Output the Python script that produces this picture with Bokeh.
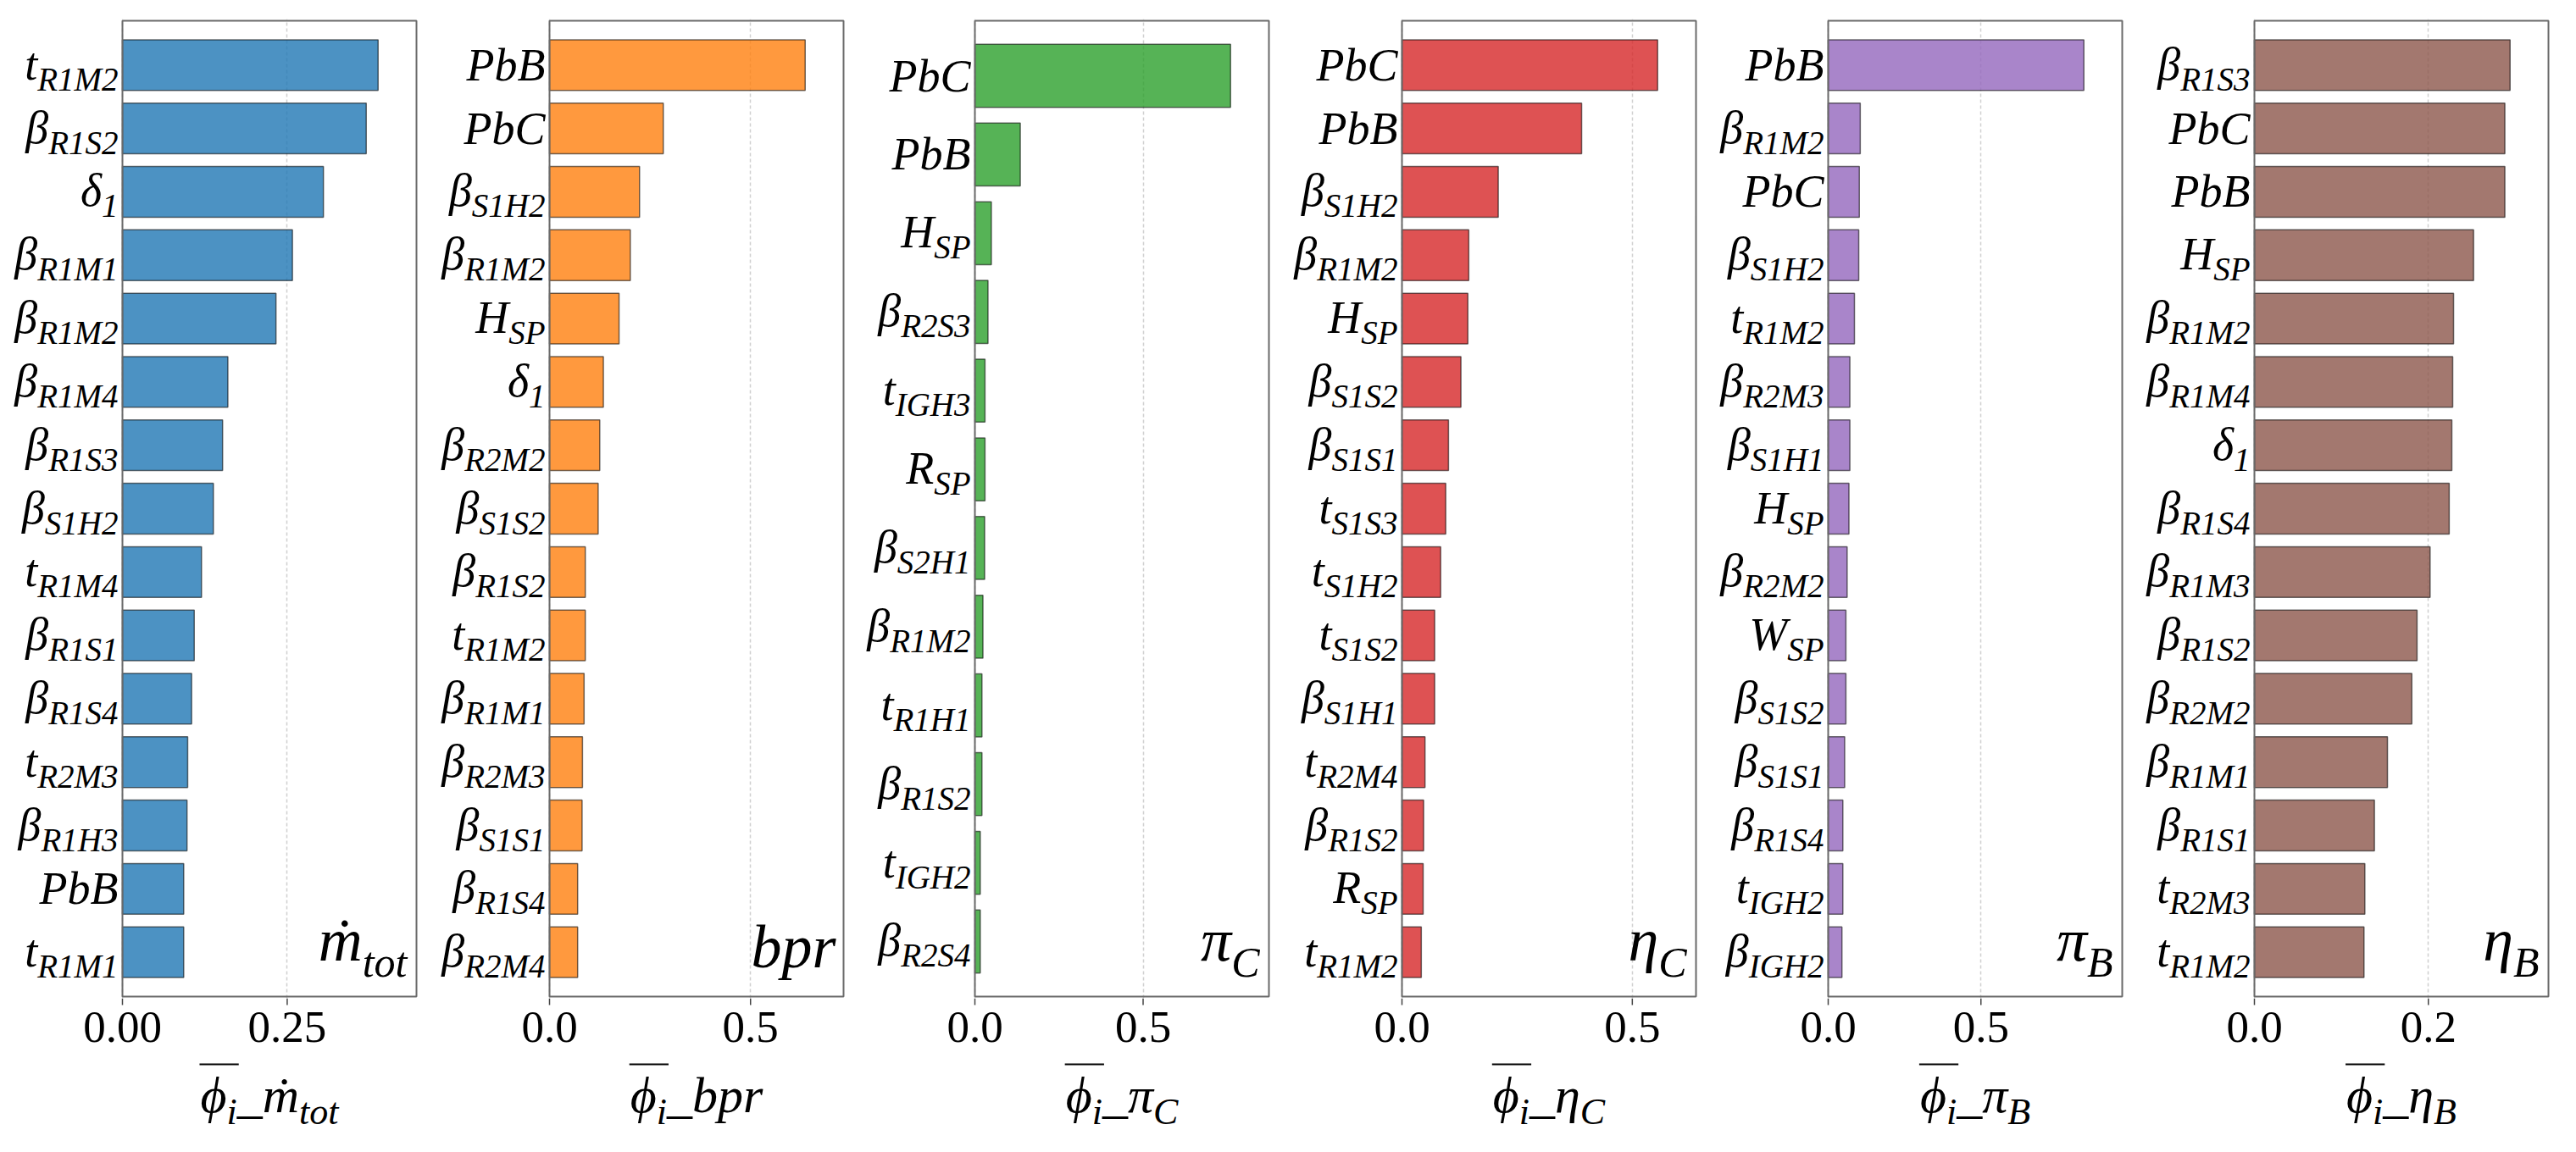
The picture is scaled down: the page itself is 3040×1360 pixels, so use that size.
import os, glob, struct
from bokeh.plotting import figure
from bokeh.models import ColumnDataSource, LabelSet, Range1d, FixedTicker
from bokeh.layouts import row, column
from bokeh.embed import file_html
from bokeh.resources import INLINE

# ---------------- data ----------------
mdot_labels = ["t_R1M2", "β_R1S2", "δ_1", "β_R1M1", "β_R1M2", "β_R1M4", "β_R1S3", "β_S1H2",
               "t_R1M4", "β_R1S1", "β_R1S4", "t_R2M3", "β_R1H3", "PbB", "t_R1M1"]
mdot_values = [0.388, 0.370, 0.305, 0.258, 0.233, 0.160, 0.152, 0.138,
               0.120, 0.109, 0.105, 0.099, 0.098, 0.093, 0.093]

bpr_labels = ["PbB", "PbC", "β_S1H2", "β_R1M2", "H_SP", "δ_1", "β_R2M2", "β_S1S2",
              "β_R1S2", "t_R1M2", "β_R1M1", "β_R2M3", "β_S1S1", "β_R1S4", "β_R2M4"]
bpr_values = [0.636, 0.283, 0.224, 0.201, 0.173, 0.134, 0.125, 0.121,
              0.089, 0.089, 0.086, 0.082, 0.081, 0.070, 0.070]

piC_labels = ["PbC", "PbB", "H_SP", "β_R2S3", "t_IGH3", "R_SP", "β_S2H1", "β_R1M2",
              "t_R1H1", "β_R1S2", "t_IGH2", "β_R2S4"]
piC_values = [0.760, 0.135, 0.049, 0.039, 0.030, 0.030, 0.029, 0.024,
              0.021, 0.021, 0.016, 0.016]

etaC_labels = ["PbC", "PbB", "β_S1H2", "β_R1M2", "H_SP", "β_S1S2", "β_S1S1", "t_S1S3",
               "t_S1H2", "t_S1S2", "β_S1H1", "t_R2M4", "β_R1S2", "R_SP", "t_R1M2"]
etaC_values = [0.555, 0.390, 0.209, 0.145, 0.143, 0.128, 0.101, 0.095,
               0.084, 0.071, 0.071, 0.050, 0.047, 0.046, 0.042]

piB_labels = ["PbB", "β_R1M2", "PbC", "β_S1H2", "t_R1M2", "β_R2M3", "β_S1H1", "H_SP",
              "β_R2M2", "W_SP", "β_S1S2", "β_S1S1", "β_R1S4", "t_IGH2", "β_IGH2"]
piB_values = [0.837, 0.105, 0.102, 0.100, 0.086, 0.071, 0.071, 0.068,
              0.062, 0.058, 0.058, 0.054, 0.048, 0.048, 0.045]

etaB_labels = ["β_R1S3", "PbC", "PbB", "H_SP", "β_R1M2", "β_R1M4", "δ_1", "β_R1S4",
               "β_R1M3", "β_R1S2", "β_R2M2", "β_R1M1", "β_R1S1", "t_R2M3", "t_R1M2"]
etaB_values = [0.294, 0.288, 0.288, 0.252, 0.229, 0.228, 0.227, 0.224,
               0.202, 0.187, 0.181, 0.153, 0.138, 0.127, 0.126]

output_names = ["ṁ_tot", "bpr", "π_C", "η_C", "π_B", "η_B"]
tick_values = [[0.0, 0.25], [0.0, 0.5], [0.0, 0.5], [0.0, 0.5], [0.0, 0.5], [0.0, 0.2]]
tick_labels = [["0.00", "0.25"], ["0.0", "0.5"], ["0.0", "0.5"], ["0.0", "0.5"], ["0.0", "0.5"], ["0.0", "0.2"]]
colors = ["#1f77b4", "#ff7f0e", "#2ca02c", "#d62728", "#9467bd", "#8c564b"]

# ---------------- font metrics (for placing subscripts) ----------------
FONT = "Liberation Serif"


def _find_font(fname):
    bases = ["/usr/share/fonts", "/usr/local/share/fonts",
             os.path.expanduser("~/.fonts"), os.path.expanduser("~/.local/share/fonts")]
    for b in bases:
        hits = glob.glob(os.path.join(b, "**", fname), recursive=True)
        if hits:
            return hits[0]
    return None


def _load_advances(path):
    data = open(path, "rb").read()
    ntab = struct.unpack(">H", data[4:6])[0]
    tabs = {}
    for i in range(ntab):
        o = 12 + 16 * i
        tag = data[o:o + 4].decode("latin1")
        _, off, ln = struct.unpack(">III", data[o + 4:o + 16])
        tabs[tag] = off
    upem = struct.unpack(">H", data[tabs["head"] + 18:tabs["head"] + 20])[0]
    nhm = struct.unpack(">H", data[tabs["hhea"] + 34:tabs["hhea"] + 36])[0]
    hm = tabs["hmtx"]
    adv = [struct.unpack(">H", data[hm + 4 * i:hm + 4 * i + 2])[0] for i in range(nhm)]
    cm = tabs["cmap"]
    n = struct.unpack(">H", data[cm + 2:cm + 4])[0]
    sub = None
    for i in range(n):
        pid, eid, off = struct.unpack(">HHI", data[cm + 4 + 8 * i:cm + 12 + 8 * i])
        fmt = struct.unpack(">H", data[cm + off:cm + off + 2])[0]
        if pid == 3 and eid == 1 and fmt == 4:
            sub = cm + off
    if sub is None:
        return None
    segx2 = struct.unpack(">H", data[sub + 6:sub + 8])[0]
    seg = segx2 // 2
    ends = struct.unpack(">%dH" % seg, data[sub + 14:sub + 14 + segx2])
    so = sub + 16 + segx2
    starts = struct.unpack(">%dH" % seg, data[so:so + segx2])
    do = so + segx2
    deltas = struct.unpack(">%dh" % seg, data[do:do + segx2])
    ro = do + segx2
    ros = struct.unpack(">%dH" % seg, data[ro:ro + segx2])

    def gid(c):
        for k in range(seg):
            if ends[k] >= c:
                if starts[k] > c:
                    return 0
                if ros[k] == 0:
                    return (c + deltas[k]) & 0xFFFF
                addr = ro + 2 * k + ros[k] + 2 * (c - starts[k])
                g = struct.unpack(">H", data[addr:addr + 2])[0]
                return (g + deltas[k]) & 0xFFFF if g else 0
        return 0

    def width(ch):
        g = gid(ord(ch))
        if g == 0:
            return None
        return adv[min(g, nhm - 1)] / upem
    return width


FALLBACK = {c: w for c, w in zip("ABCDEFGHIJKLMNOPQRSTUVWXYZ",
                                  [.611, .611, .667, .722, .611, .611, .722, .722, .333, .444, .667, .556, .833,
                                   .667, .722, .611, .722, .611, .5, .556, .722, .611, .833, .611, .556, .556])}
FALLBACK.update({d: .5 for d in "0123456789"})
FALLBACK.update({"b": .5, "p": .5, "r": .389, "t": .278, "o": .5, "i": .278, "m": .722, "ṁ": .722,
                 "_": .5, "β": .5, "δ": .45, "π": .5, "η": .5, "ϕ": .55})

try:
    _p = _find_font("LiberationSerif-Italic.ttf")
    _adv = _load_advances(_p) if _p else None
except Exception:
    _adv = None


def char_w(ch):
    w = None
    if _adv is not None:
        try:
            w = _adv(ch)
        except Exception:
            w = None
    if w is None:
        w = FALLBACK.get(ch, 0.5)
    return w


def text_w(s, size):
    return sum(char_w(c) for c in s) * size


def split(lbl):
    if "_" in lbl:
        a, b = lbl.split("_", 1)
        return a, b
    return lbl, ""


def texts(fig, xs, ys, ts, size, align="right", style="italic"):
    fig.add_layout(LabelSet(x="x", y="y", text="text",
                            source=ColumnDataSource(dict(x=list(xs), y=list(ys), text=list(ts))),
                            text_align=align, text_baseline="alphabetic",
                            text_font=FONT, text_font_style=style,
                            text_font_size="%dpx" % size, text_color="black"))


# ---------------- layout ----------------
FW, FH = 347, 1152              # size of the boxed plotting area
PAD = 2                         # frame margin so the box line is not clipped
TOP = 24
AH = 162                        # strip below each box: ticks, tick labels, axis title
LW = [144, 155, 153, 155, 154, 154]   # label space left of each box
TICK_MAIN, TICK_SUB = 54, 39
CORNER_MAIN, CORNER_SUB = 72, 50
AX_MAIN, AX_SUB = 60, 44
BOX_COLOR = "#6a6a6a"

panels = [
    (mdot_labels, mdot_values),
    (bpr_labels, bpr_values),
    (piC_labels, piC_values),
    (etaC_labels, etaC_values),
    (piB_labels, piB_values),
    (etaB_labels, etaB_values),
]

cols = []
for i, (labels, values) in enumerate(panels):
    n = len(values)
    xmax = 1.15 * max(values)
    ppx = FW / xmax
    ppu = FH / (n + 0.4)
    y0, y1 = -0.7, n - 0.3
    xr0, xr1 = -LW[i] / ppx, xmax + PAD / ppx

    p = figure(frame_width=LW[i] + FW + PAD, frame_height=FH + 2 * PAD,
               x_range=Range1d(xr0, xr1),
               y_range=Range1d(y0 - PAD / ppu, y1 + PAD / ppu),
               output_backend="svg", toolbar_location=None,
               x_axis_location=None, y_axis_location=None,
               min_border_left=0, min_border_right=0,
               min_border_top=TOP - PAD, min_border_bottom=0)
    p.background_fill_color = "white"
    p.border_fill_color = "white"
    p.outline_line_color = None

    ticks = tick_values[i]
    p.xgrid.ticker = FixedTicker(ticks=ticks)
    p.xgrid.grid_line_color = "#d0d0d0"
    p.xgrid.grid_line_dash = "4 3"
    p.xgrid.grid_line_width = 1.5
    p.ygrid.visible = False

    ypos = [n - 1 - k for k in range(n)]
    src = ColumnDataSource(dict(y=ypos, v=values))
    p.hbar(y="y", left=0, right="v", height=0.8, source=src,
           fill_color=colors[i], fill_alpha=0.8,
           line_color="black", line_alpha=0.55, line_width=1.5)

    # axes box
    p.quad(left=[0], right=[xmax], bottom=[y0], top=[y1],
           fill_color=None, line_color=BOX_COLOR, line_width=2)

    # category labels with subscripts
    gap = 5
    mx, my, mt, sx, sy, st = [], [], [], [], [], []
    for lbl, yy in zip(labels, ypos):
        main, sub = split(lbl)
        ws = text_w(sub, TICK_SUB) if sub else 0.0
        mx.append(-(gap + ws) / ppx)
        my.append(yy - (17 if sub else 18) / ppu)
        mt.append(main)
        if sub:
            sx.append(-gap / ppx)
            sy.append(yy - 30 / ppu)
            st.append(sub)
    texts(p, mx, my, mt, TICK_MAIN)
    texts(p, sx, sy, st, TICK_SUB)

    # corner label
    cmain, csub = split(output_names[i])
    if csub:
        ws = text_w(csub, CORNER_SUB)
        texts(p, [xmax - 11 / ppx], [y0 + 24 / ppu], [csub], CORNER_SUB)
        texts(p, [xmax - (11 + ws) / ppx], [y0 + 43 / ppu], [cmain], CORNER_MAIN)
    else:
        texts(p, [xmax - 9 / ppx], [y0 + 35 / ppu], [cmain], CORNER_MAIN)

    # ---- strip below: tick marks, tick labels, axis title ----
    af = figure(frame_width=LW[i] + FW + PAD, frame_height=AH,
                x_range=Range1d(xr0, xr1), y_range=Range1d(0, AH),
                output_backend="svg", toolbar_location=None,
                x_axis_location=None, y_axis_location=None,
                min_border_left=0, min_border_right=0, min_border_top=0, min_border_bottom=0)
    af.outline_line_color = None
    af.grid.visible = False
    af.background_fill_color = "white"
    af.border_fill_color = "white"

    af.segment(x0=ticks, y0=[AH] * len(ticks), x1=ticks, y1=[AH - 8] * len(ticks),
               line_color="#444444", line_width=1.5)
    texts(af, ticks, [AH - 51] * len(ticks), tick_labels[i], 53, align="center", style="normal")

    pieces = [("ϕ", AX_MAIN, 0), ("i", AX_SUB, 1), ("_", AX_MAIN, 0), (cmain, AX_MAIN, 0)]
    if csub:
        pieces.append((csub, AX_SUB, 1))
    widths = [text_w(t, s) for t, s, _ in pieces]
    total = sum(widths)
    cur = FW / 2 - total / 2
    starts = []
    for (t, s, is_sub), w in zip(pieces, widths):
        starts.append(cur)
        texts(af, [cur / ppx], [AH - (148 if is_sub else 134)], [t], s, align="left")
        cur += w
    ol0 = (starts[0] - 1) / ppx
    ol1 = (starts[0] + widths[0] + widths[1] + 2) / ppx
    af.segment(x0=[ol0], y0=[AH - 78], x1=[ol1], y1=[AH - 78], line_color="black", line_width=2.2)

    cols.append(column(p, af, spacing=0))

layout = row(*cols, spacing=0)
open("out.html", "w").write(file_html(layout, INLINE))
